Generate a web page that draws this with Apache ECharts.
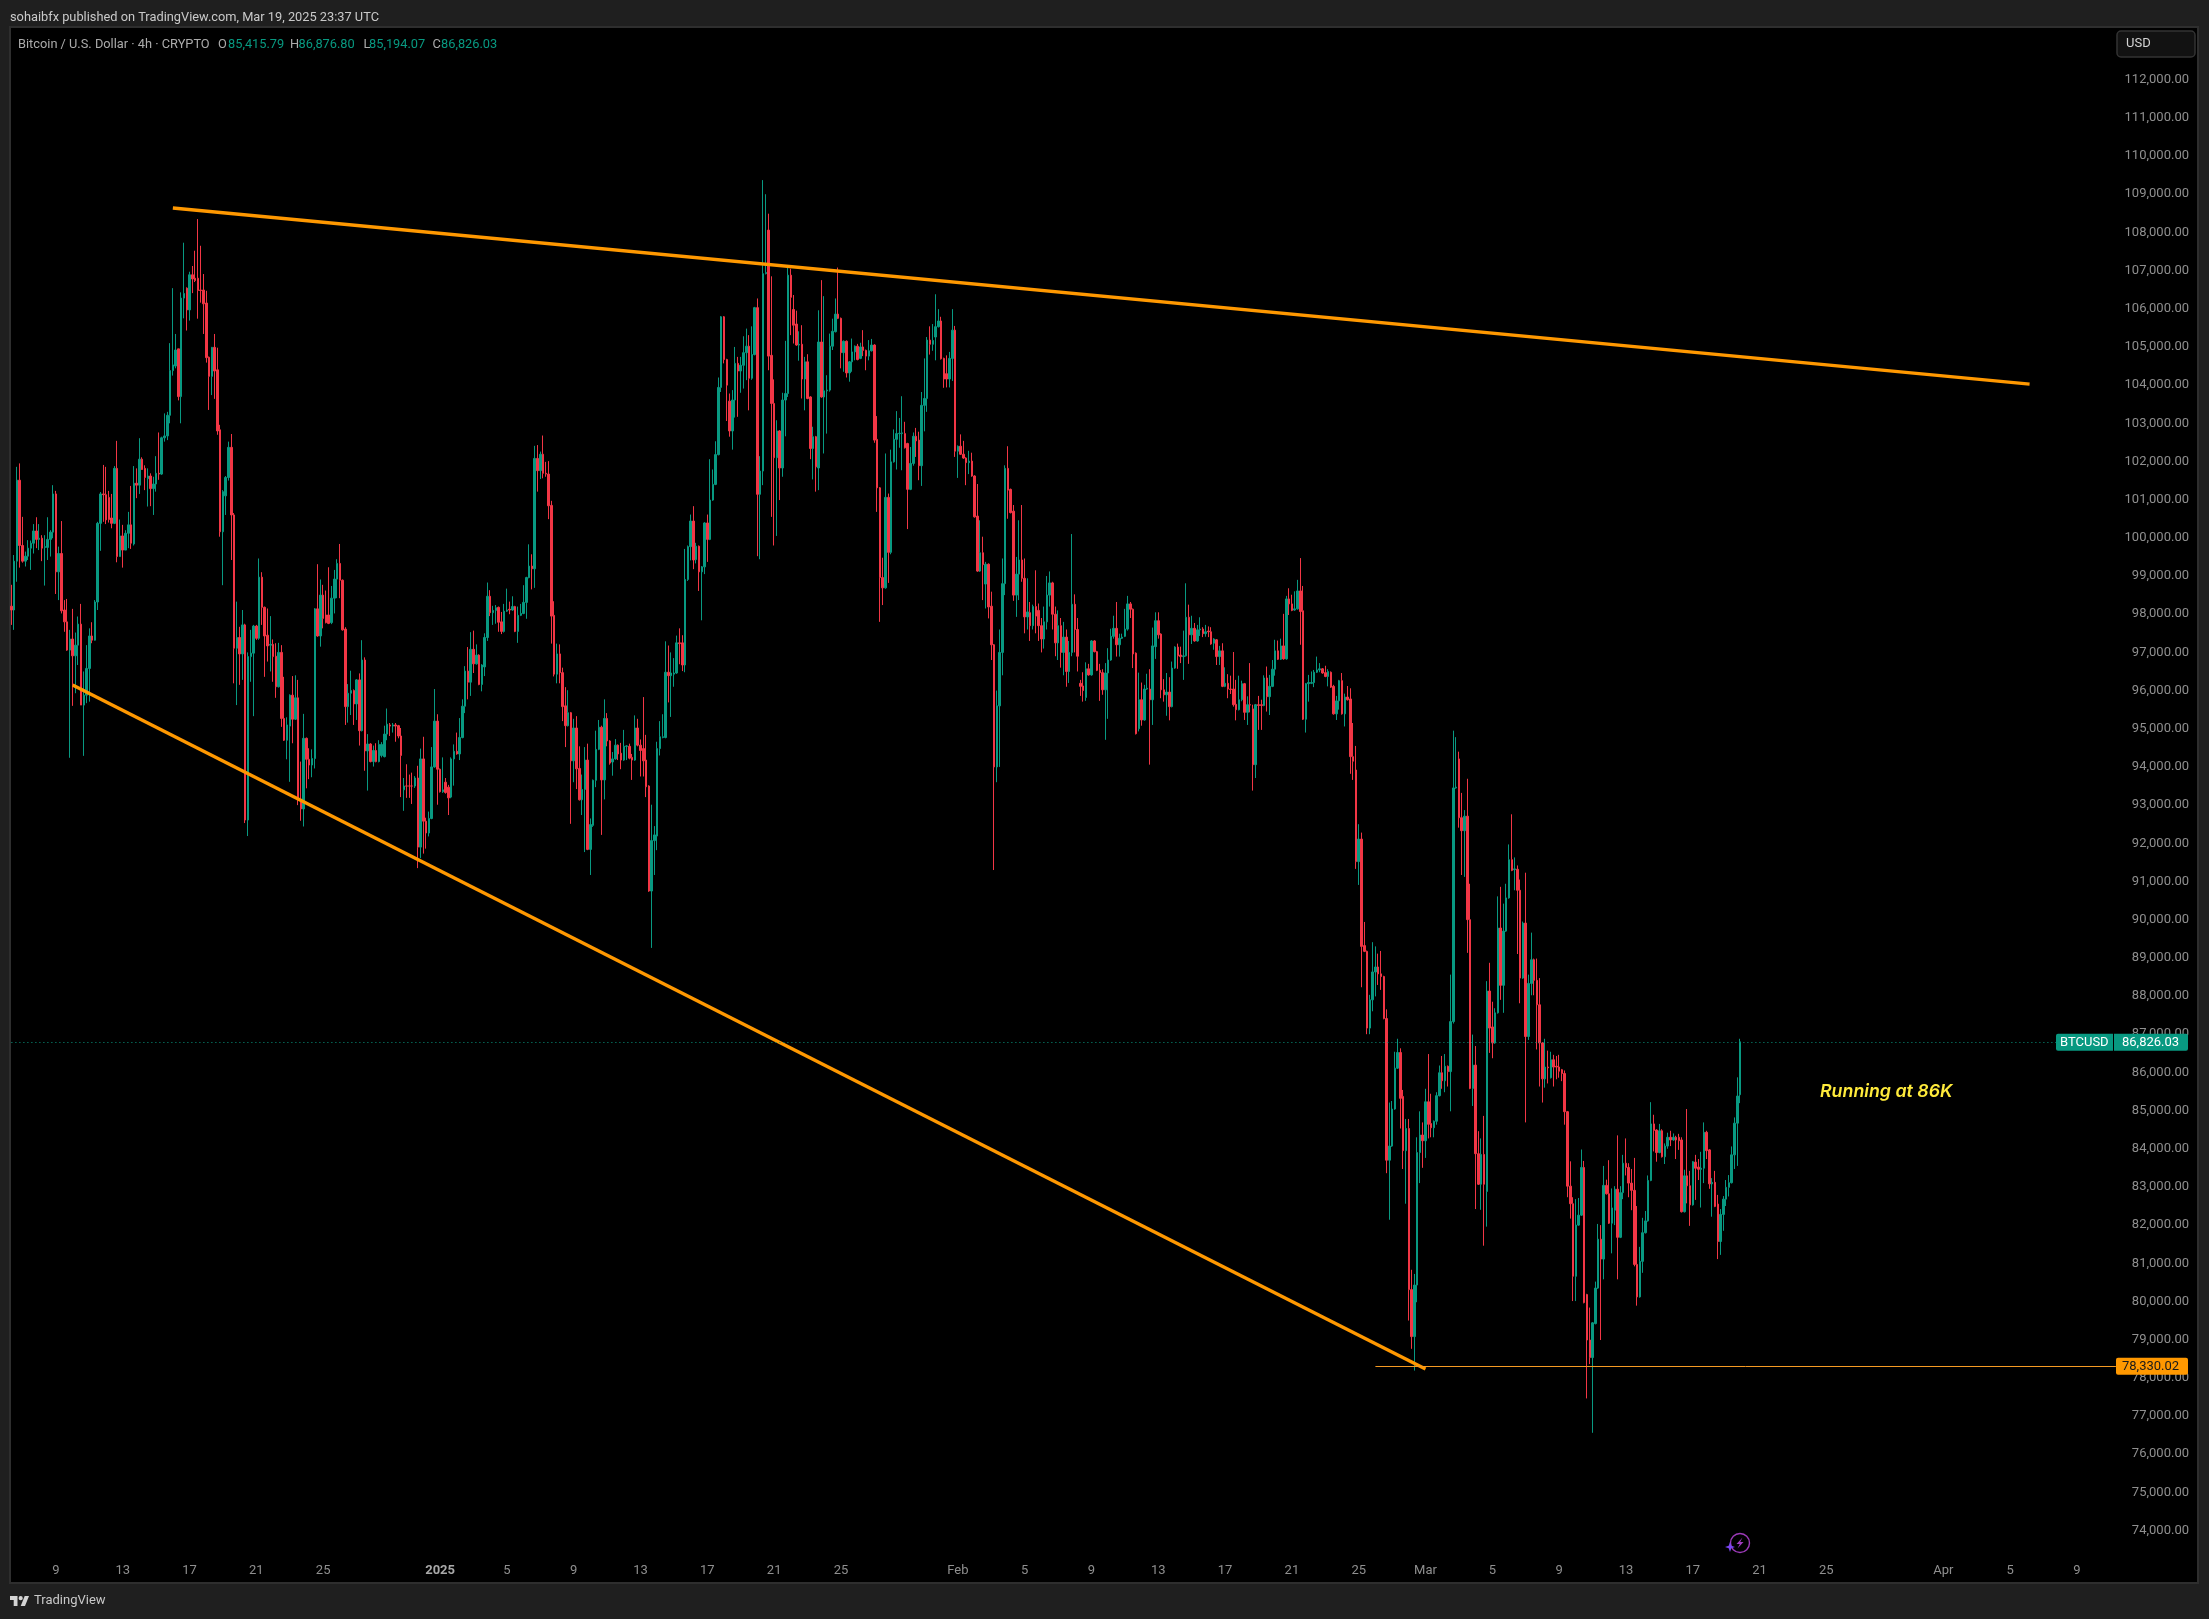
<!DOCTYPE html>
<html><head><meta charset="utf-8"><style>html,body{margin:0;padding:0;background:#1f1f1f}#c{width:2209px;height:1619px}</style>
<script src="https://cdn.jsdelivr.net/npm/echarts@6/dist/echarts.min.js"></script></head><body><div id="c"></div>
<script>
// Candle rows: [open, close, low, high], in tens of USD. 4h bars, first bar Dec 6 2024 08:00.
const candlesDec = [[9821,9811,9772,9877],[9811,9939,9759,9955],[9939,10151,9885,10186],[10151,9980,9922,10195],[9980,9939,9935,10055],[9939,9952,9925,9964],[9952,9973,9942,9994],[9973,9986,9916,9993],[9986,10018,9959,10036],[10018,9996,9973,10054],[9996,9999,9968,10036],[9999,9973,9939,10007],[9975,9977,9875,10007],[9975,9996,9942,10054],[9996,10015,9951,10020],[10015,10115,9999,10138],[10115,9911,9853,10123],[9911,9959,9837,9977],[9959,9809,9802,10044],[9811,9780,9754,9837],[9780,9706,9704,9840],[9706,9735,9424,9759],[9735,9691,9560,9814],[9691,9719,9593,9752],[9719,9774,9667,9794],[9774,9562,9562,9827],[9562,9588,9429,9650],[9588,9658,9567,9719],[9658,9743,9571,9763],[9743,9732,9724,9779],[9732,9832,9731,9837],[9832,10038,9811,10042],[10038,10115,9966,10120],[10115,10113,10042,10191],[10113,10047,10036,10186],[10106,10048,10040,10123],[10052,10038,10025,10115],[10038,10182,10036,10188],[10182,9951,9936,10254],[9951,10005,9951,10048],[10005,9968,9922,10034],[9968,10012,9968,10020],[10012,10034,9973,10068],[10034,9986,9971,10136],[9984,10143,9980,10188],[10143,10138,10104,10182],[10138,10206,10115,10261],[10206,10179,10178,10211],[10182,10158,10125,10190],[10155,10162,10082,10182],[10162,10129,10083,10169],[10129,10141,10060,10160],[10141,10169,10121,10214],[10169,10167,10152,10276],[10167,10262,10165,10265],[10262,10267,10252,10326],[10267,10321,10256,10330],[10321,10438,10300,10510],[10438,10453,10425,10654],[10450,10492,10444,10534],[10495,10370,10360,10495],[10370,10628,10300,10643],[10628,10640,10575,10773],[10654,10597,10543,10656],[10597,10689,10569,10697],[10689,10678,10641,10712],[10680,10674,10670,10752],[10680,10648,10574,10835],[10649,10648,10616,10765],[10649,10613,10534,10691],[10615,10472,10459,10647],[10473,10423,10335,10475],[10423,10499,10374,10500],[10499,10437,10364,10534],[10440,10280,10270,10498],[10283,10016,10003,10296],[10016,10121,9876,10125],[10110,10158,10060,10162],[10158,10237,10150,10252],[10237,10060,9942,10272],[10060,9711,9619,10065],[9711,9739,9562,9833],[9739,9696,9615,9767],[9696,9772,9628,9811],[9772,9261,9253,9775],[9261,9689,9219,9700],[9689,9698,9623,9759],[9698,9769,9533,9772],[9769,9737,9733,9772],[9737,9897,9733,9946],[9897,9818,9772,9910],[9818,9743,9636,9820],[9745,9717,9676,9815],[9719,9721,9650,9795],[9721,9689,9623,9734],[9690,9610,9581,9724],[9610,9700,9608,9725],[9700,9527,9505,9719],[9527,9470,9468,9636],[9470,9510,9420,9530],[9507,9588,9361,9590],[9588,9525,9462,9638],[9525,9581,9523,9640],[9581,9313,9300,9628],[9316,9290,9259,9414],[9290,9475,9244,9539],[9475,9420,9344,9477],[9420,9405,9368,9449],[9405,9422,9373,9446],[9422,9814,9396,9816],[9814,9743,9741,9931],[9743,9850,9715,9891],[9850,9789,9763,9877],[9798,9778,9776,9862],[9798,9776,9774,9923],[9778,9842,9774,9874],[9842,9892,9802,9916],[9892,9933,9842,9944],[9933,9889,9842,9984],[9889,9759,9757,9891],[9761,9558,9510,9766],[9558,9593,9516,9617],[9593,9600,9536,9652],[9600,9565,9510,9603],[9565,9628,9523,9630],[9628,9495,9456,9645],[9495,9680,9493,9732],[9680,9442,9390,9687],[9442,9460,9338,9486],[9460,9414,9412,9462],[9414,9443,9401,9456],[9443,9414,9412,9462],[9414,9459,9412,9470],[9430,9459,9425,9465],[9427,9486,9425,9508],[9486,9512,9470,9553],[9510,9507,9481,9515],[9507,9510,9490,9515],[9510,9507,9466,9515],[9508,9481,9475,9510],[9481,9430,9321,9502],[9340,9350,9285,9371],[9350,9350,9319,9407],[9350,9350,9319,9380],[9350,9350,9303,9385],[9350,9371,9345,9376],[9371,9190,9135,9403],[9190,9421,9161,9448],[9421,9258,9173,9479],[9258,9227,9186,9267],[9227,9265,9218,9283],[9265,9400,9263,9452],[9400,9520,9398,9604],[9520,9394,9301,9538],[9394,9335,9333,9396]];
const candlesJan = [[9335,9340,9332,9425],[9360,9333,9330,9371],[9347,9319,9274,9353],[9321,9421,9318,9425],[9421,9441,9351,9459],[9441,9434,9432,9490],[9434,9477,9418,9528],[9477,9559,9475,9577],[9559,9651,9541,9664],[9651,9622,9577,9714],[9622,9708,9586,9753],[9708,9670,9646,9757],[9670,9693,9668,9721],[9693,9616,9614,9695],[9616,9667,9598,9669],[9662,9739,9638,9750],[9739,9847,9730,9883],[9847,9804,9795,9863],[9804,9810,9772,9822],[9810,9817,9775,9824],[9818,9779,9754,9820],[9780,9755,9748,9806],[9755,9808,9752,9827],[9808,9811,9806,9867],[9813,9811,9800,9833],[9811,9820,9809,9847],[9820,9755,9753,9822],[9755,9797,9725,9820],[9797,9802,9795,9827],[9802,9831,9800,9876],[9831,9896,9788,9898],[9896,9926,9894,9983],[9926,9919,9865,9957],[9919,10208,9869,10241],[10208,10176,10121,10243],[10176,10219,10154,10226],[10219,10169,10156,10268],[10169,10167,10160,10199],[10167,10084,10049,10201],[10085,9795,9723,10097],[9797,9643,9637,9834],[9643,9696,9619,9723],[9696,9647,9619,9721],[9647,9558,9520,9660],[9560,9508,9452,9609],[9508,9542,9506,9601],[9542,9416,9251,9544],[9416,9502,9360,9526],[9502,9395,9342,9533],[9396,9314,9312,9454],[9314,9341,9274,9380],[9341,9418,9177,9452],[9418,9184,9182,9461],[9184,9249,9117,9265],[9247,9365,9243,9367],[9365,9446,9347,9495],[9446,9504,9444,9523],[9504,9366,9222,9508],[9366,9527,9315,9577],[9527,9468,9454,9541],[9468,9410,9406,9470],[9413,9421,9377,9439],[9421,9457,9419,9473],[9457,9434,9418,9459],[9436,9418,9394,9463],[9418,9454,9416,9497],[9454,9455,9418,9457],[9454,9423,9420,9461],[9425,9418,9366,9434],[9418,9502,9416,9535],[9502,9457,9454,9526],[9457,9443,9375,9472],[9448,9416,9375,9583],[9418,9348,9321,9484],[9350,9075,9073,9352],[9075,9207,8926,9301],[9207,9222,9117,9245],[9219,9448,9182,9466],[9448,9479,9430,9520],[9477,9479,9475,9538],[9477,9648,9475,9729],[9648,9639,9569,9718],[9639,9646,9531,9700],[9643,9646,9610,9685],[9646,9725,9644,9744],[9725,9723,9669,9763],[9725,9667,9651,9745],[9667,9891,9648,9971],[9891,9977,9887,9980],[9977,10044,9941,10061],[10044,9942,9918,10083],[9943,9978,9933,9987],[9978,9911,9861,9980],[9911,9924,9784,9926],[9924,10039,9905,10041],[10039,9996,9937,10061],[9996,10099,9994,10206],[10099,10140,10097,10179],[10140,10218,10138,10253],[10218,10394,10216,10420],[10394,10579,10382,10581],[10579,10467,10457,10581],[10467,10400,10306,10469],[10358,10280,10265,10378],[10280,10361,10231,10387],[10361,10457,10315,10500],[10457,10437,10317,10474],[10437,10452,10380,10474],[10452,10485,10391,10528],[10485,10502,10413,10548],[10502,10418,10334,10531],[10418,10480,10414,10554],[10480,10603,10478,10605],[10603,10114,9952,10627],[10114,10175,9944,10214],[10175,10692,10138,10937],[10692,10695,10690,10900],[10806,10476,10439,10849],[10478,10352,10055,10685],[10352,10210,9980,10415],[10210,10280,10005,10308],[10280,10183,10099,10282],[10183,10361,10160,10380],[10361,10378,10266,10516],[10378,10688,10369,10710],[10688,10630,10531,10705],[10598,10557,10509,10636],[10560,10505,10503,10595],[10505,10507,10464,10541],[10507,10416,10365,10557],[10416,10461,10334,10474],[10461,10365,10363,10481],[10369,10234,10206,10371],[10234,10265,10153,10291],[10265,10186,10121,10267],[10183,10513,10125,10596],[10513,10369,10367,10675],[10369,10385,10221,10633],[10385,10387,10273,10426],[10387,10502,10383,10535],[10502,10541,10492,10574],[10540,10586,10538,10627],[10586,10575,10573,10708],[10575,10485,10444,10577],[10485,10515,10435,10517],[10515,10432,10420,10517],[10432,10461,10409,10463],[10461,10487,10435,10522],[10487,10502,10465,10504],[10502,10467,10465,10508],[10470,10500,10468,10511],[10500,10491,10476,10544],[10491,10476,10439,10493],[10476,10490,10465,10518],[10490,10505,10488,10521],[10505,10256,10249,10507],[10258,10131,10068,10319],[10131,9896,9780,10133],[9896,9869,9824,9948],[9869,10106,9867,10221],[10106,9962,9882,10116],[9962,10199,9957,10231],[10199,10258,10197,10284],[10258,10273,10179,10332],[10273,10274,10236,10314],[10273,10275,10177,10371],[10273,10236,10234,10304],[10247,10127,10023,10249],[10127,10195,10125,10238],[10195,10266,10189,10276],[10266,10254,10212,10288],[10256,10189,10151,10278],[10189,10347,10136,10382],[10347,10365,10279,10470],[10365,10518,10330,10526],[10518,10507,10480,10554],[10507,10517,10490,10560],[10526,10553,10465,10638],[10553,10568,10551,10599],[10568,10469,10467,10579],[10470,10416,10393,10472],[10430,10416,10394,10478],[10416,10470,10394,10487],[10470,10544,10411,10599]];
const candlesFeb = [[10544,10227,10212,10555],[10227,10240,10157,10242],[10240,10219,10217,10271],[10219,10209,10207,10254],[10209,10197,10138,10211],[10197,10201,10167,10228],[10201,10162,10160,10223],[10162,10055,10053,10164],[10057,9913,9911,10141],[9913,9961,9911,10046],[9961,9930,9837,10003],[9879,9931,9815,9937],[9931,9819,9789,9933],[9821,9720,9680,9859],[9720,9400,9130,9722],[9400,9560,9360,9600],[9560,9700,9400,9760],[9700,9880,9640,9946],[9880,10182,9850,10190],[10182,10125,10050,10240],[10127,10066,10064,10129],[10070,9850,9835,10086],[9850,9905,9793,9950],[9905,9942,9837,10046],[9942,9894,9885,10086],[9894,9793,9750,9946],[9793,9806,9760,9894],[9804,9770,9730,9832],[9770,9820,9760,9825],[9820,9795,9750,9915],[9810,9770,9730,9828],[9770,9735,9700,9790],[9735,9780,9710,9820],[9780,9850,9760,9900],[9850,9882,9820,9912],[9882,9800,9760,9885],[9800,9725,9690,9820],[9725,9770,9680,9810],[9770,9700,9660,9790],[9700,9740,9640,9780],[9740,9650,9610,9760],[9650,9700,9620,9730],[9700,9826,9690,10010],[9826,9760,9700,9852],[9760,9690,9650,9790],[9619,9611,9586,9628],[9612,9600,9571,9648],[9582,9657,9573,9674],[9657,9641,9639,9670],[9641,9730,9639,9732],[9730,9702,9700,9732],[9702,9653,9651,9704],[9653,9647,9573,9670],[9647,9602,9589,9656],[9602,9646,9471,9672],[9646,9680,9526,9711],[9680,9742,9678,9762],[9742,9763,9736,9796],[9763,9720,9689,9832],[9720,9737,9689,9749],[9737,9740,9735,9749],[9742,9761,9740,9814],[9761,9827,9757,9848],[9827,9813,9790,9832],[9813,9696,9659,9815],[9698,9487,9485,9700],[9500,9576,9493,9647],[9576,9523,9508,9621],[9523,9604,9521,9615],[9604,9606,9602,9644],[9604,9576,9406,9656],[9576,9717,9510,9765],[9715,9783,9683,9805],[9783,9746,9736,9805],[9748,9602,9580,9750],[9602,9589,9571,9630],[9589,9596,9534,9646],[9596,9558,9522,9635],[9558,9659,9556,9676],[9659,9714,9657,9716],[9714,9691,9657,9723],[9693,9689,9672,9715],[9689,9691,9628,9757],[9691,9792,9689,9881],[9792,9746,9670,9825],[9746,9763,9722,9796],[9763,9730,9728,9777],[9730,9759,9728,9772],[9759,9761,9743,9792],[9761,9749,9740,9766],[9749,9754,9741,9772],[9756,9754,9740,9768],[9754,9722,9720,9766],[9724,9735,9707,9737],[9733,9689,9667,9735],[9689,9704,9667,9717],[9704,9611,9609,9724],[9611,9619,9609,9661],[9619,9604,9580,9643],[9604,9603,9591,9639],[9604,9563,9558,9701],[9564,9550,9522,9628],[9550,9576,9548,9639],[9576,9618,9572,9626],[9618,9543,9523,9620],[9543,9563,9510,9585],[9563,9562,9543,9672],[9552,9406,9338,9563],[9406,9563,9371,9565],[9563,9561,9497,9586],[9563,9561,9497,9576],[9561,9633,9559,9640],[9633,9584,9545,9663],[9584,9611,9536,9641],[9611,9656,9609,9680],[9656,9704,9639,9733],[9704,9682,9680,9731],[9682,9717,9680,9736],[9717,9683,9681,9801],[9683,9840,9681,9848],[9840,9827,9798,9868],[9827,9810,9808,9851],[9811,9814,9809,9860],[9814,9861,9812,9890],[9861,9807,9720,9947],[9809,9525,9523,9874],[9525,9618,9490,9620],[9618,9621,9571,9641],[9619,9621,9617,9650],[9621,9648,9609,9654],[9648,9654,9646,9689],[9654,9657,9648,9672],[9657,9646,9644,9659],[9647,9637,9635,9665],[9637,9650,9611,9656],[9648,9609,9607,9650],[9611,9539,9537,9615],[9539,9573,9523,9586],[9573,9626,9550,9628],[9626,9539,9537,9646],[9539,9583,9506,9592],[9583,9576,9574,9612],[9578,9427,9382,9606],[9427,9415,9366,9515],[9392,9152,9133,9455],[9152,9211,9091,9250],[9211,8930,8823,9228],[8932,8917,8915,8994],[8917,8716,8700,8919],[8716,8790,8700,8803],[8790,8863,8760,8941],[8863,8876,8799,8930],[8876,8858,8829,8911],[8858,8851,8816,8918],[8851,8741,8739,8853],[8741,8370,8336,8765],[8370,8407,8214,8521],[8407,8504,8405,8525],[8504,8611,8502,8654],[8611,8652,8609,8688],[8652,8532,8453,8663],[8537,8395,8347,8554],[8395,8453,8256,8478],[8453,8031,7950,8478],[8031,7908,7876,8083],[7908,8043,7819,8072]];
const candlesMar = [[8043,8390,7998,8430],[8390,8436,8310,8498],[8436,8421,8350,8469],[8421,8523,8376,8557],[8523,8464,8427,8648],[8466,8455,8430,8544],[8455,8472,8430,8474],[8472,8539,8463,8548],[8539,8599,8537,8618],[8599,8578,8557,8643],[8578,8616,8548,8648],[8616,8602,8563,8618],[8602,8733,8498,8856],[8733,9345,8728,9495],[9345,9347,9343,9478],[9421,9267,9241,9440],[9267,9233,9117,9332],[9233,9271,9112,9287],[9271,9000,8913,9369],[9000,8558,8556,9094],[8558,8619,8512,8699],[8619,8387,8242,8669],[8387,8307,8305,8446],[8307,8385,8240,8427],[8385,8307,8146,8486],[8288,8813,8196,8839],[8813,8716,8651,8887],[8719,8677,8637,8785],[8677,8756,8675,8768],[8756,8978,8754,9061],[8978,8828,8790,9086],[8828,8970,8756,9042],[8970,9057,8968,9094],[9057,9157,9055,9197],[9157,9129,9127,9276],[9131,9133,9077,9163],[9132,9077,8910,9142],[9077,8847,8781,9105],[8847,8991,8845,8995],[8991,8694,8469,9123],[8694,8833,8685,8856],[8833,8895,8802,8966],[8895,8841,8802,8898],[8841,8777,8660,8898],[8777,8677,8563,8847],[8677,8583,8521,8679],[8583,8614,8560,8688],[8614,8612,8571,8657],[8586,8633,8584,8654],[8633,8614,8563,8646],[8616,8614,8582,8643],[8614,8603,8586,8646],[8607,8597,8577,8609],[8597,8497,8463,8605],[8497,8302,8273,8499],[8302,8256,8217,8367],[8256,8066,8001,8273],[8066,8200,8001,8268],[8200,8226,8198,8271],[8226,8351,8224,8398],[8351,7997,7995,8368],[8018,7899,7746,8020],[7899,7853,7836,7984],[7853,7944,7656,7946],[7942,8035,7940,8052],[8035,8163,8033,8203],[8163,8111,7899,8200],[8111,8304,8058,8355],[8304,8282,8280,8319],[8282,8205,8203,8370],[8205,8245,8126,8296],[8239,8294,8200,8302],[8294,8168,8058,8435],[8168,8285,8166,8302],[8285,8362,8268,8384],[8362,8351,8330,8427],[8351,8310,8273,8362],[8310,8291,8239,8347],[8291,8097,8092,8376],[8097,8012,7989,8250],[8012,8105,8010,8143],[8105,8180,8075,8219],[8180,8211,8178,8237],[8211,8317,8209,8330],[8317,8465,8315,8522],[8465,8448,8393,8489],[8449,8390,8366,8451],[8390,8447,8388,8465],[8447,8379,8377,8451],[8379,8407,8360,8414],[8407,8430,8400,8442],[8430,8423,8407,8447],[8423,8430,8421,8440],[8430,8423,8373,8434],[8430,8421,8397,8439],[8423,8235,8233,8430],[8235,8329,8233,8345],[8329,8303,8257,8504],[8303,8253,8198,8342],[8253,8366,8251,8368],[8365,8349,8266,8384],[8352,8346,8318,8373],[8346,8349,8246,8392],[8349,8443,8310,8469],[8443,8395,8373,8447],[8397,8308,8295,8399],[8308,8312,8222,8323],[8312,8249,8247,8342],[8255,8157,8111,8279],[8157,8228,8122,8242],[8228,8268,8185,8276],[8268,8299,8250,8318],[8299,8311,8275,8331],[8311,8384,8309,8406],[8384,8467,8347,8482],[8467,8538,8355,8587],[8541.6,8680,8519.4,8688]];
const priceUnit = 10;
const yTicks = [74000,75000,76000,77000,78000,79000,80000,81000,82000,83000,84000,85000,86000,87000,88000,89000,90000,91000,92000,93000,94000,95000,96000,97000,98000,99000,100000,101000,102000,103000,104000,105000,106000,107000,108000,109000,110000,111000,112000];
const xTickDays = ['12-09','12-13','12-17','12-21','12-25','01-01','01-05','01-09','01-13','01-17','01-21','01-25','02-01','02-05','02-09','02-13','02-17','02-21','02-25','03-01','03-05','03-09','03-13','03-17','03-21','03-25','04-01','04-05','04-09'];
const xTickTexts = ['9','13','17','21','25','2025','5','9','13','17','21','25','Feb','5','9','13','17','21','25','Mar','5','9','13','17','21','25','Apr','5','9'];
// Drawn lines: bar index and price, read against the axes
const upperTrend = [[58,108640],[725,104025]];
const lowerTrend = [[22,96146],[508,78231]];
const supportLine = [490,756,78300];
const lastLine = [0,735,86787];
const lastClose = '86,826.03', supportText = '78,330.02';

const UP='#089981', DOWN='#F23645', ORANGE='#ff9800', FONT='Roboto, sans-serif';
const barSlots = 786;
const pad = n=>String(n).padStart(2,'0');
const slotKeys = []; const t0 = Date.UTC(2024,11,6,8);
for(let i=0;i<barSlots;i++){const d=new Date(t0+i*4*3600e3);slotKeys.push(`${pad(d.getUTCMonth()+1)}-${pad(d.getUTCDate())} ${pad(d.getUTCHours())}`);}
const tickText = new Map(xTickDays.map((k,i)=>[k+' 00',xTickTexts[i]]));
const candles = [...candlesDec,...candlesJan,...candlesFeb,...candlesMar].map(r=>r.map(v=>v*priceUnit));
const seg = (a,b,lineStyle)=>[{coord:[slotKeys[a[0]],a[1]],lineStyle},{coord:[slotKeys[b[0]],b[1]]}];
const fmt = v=>v.toLocaleString('en-US',{minimumFractionDigits:2,maximumFractionDigits:2});

const chart = echarts.init(document.getElementById('c'),null,{renderer:'canvas',width:2209,height:1619});
const txt=(text,x,y,fill,size,extra)=>({type:'text',z:100,x,y,style:Object.assign({text,fill,font:`${size}px ${FONT}`,verticalAlign:'middle'},extra||{})});
chart.setOption({
  animation:false,
  backgroundColor:'#1f1f1f',
  grid:{left:10,right:11,top:27,bottom:36,show:true,backgroundColor:'#000',borderColor:'#2e2e2e',borderWidth:2},
  xAxis:{type:'category',data:slotKeys,boundaryGap:true,axisLine:{show:false},axisTick:{show:false},splitLine:{show:false},
    axisLabel:{inside:true,margin:6,color:'#8f8f8f',fontFamily:'Roboto',fontSize:13,hideOverlap:false,
      interval:(i,v)=>tickText.has(v),
      formatter:v=>{const s=tickText.get(v)||'';return s==='2025'?'{b|2025}':s;},
      rich:{b:{fontFamily:'Roboto',fontWeight:'bold',fontSize:13,color:'#a8a8a8'}}}},
  yAxis:{type:'value',position:'right',min:72626,max:113380,axisLine:{show:false},axisTick:{show:false},splitLine:{show:false},
    axisLabel:{inside:true,margin:9,color:'#8f8f8f',fontFamily:'Roboto',fontSize:13,customValues:yTicks,formatter:v=>fmt(v)}},
  series:[
   {type:'line',z:1,data:[],silent:true,markLine:{silent:true,symbol:'none',animation:false,label:{show:false},
     data:[
      seg(upperTrend[0],upperTrend[1],{color:ORANGE,width:3.4,type:'solid'}),
      seg(lowerTrend[0],lowerTrend[1],{color:ORANGE,width:3.4,type:'solid'}),
      seg([supportLine[0],supportLine[2]],[supportLine[1],supportLine[2]],{color:'#f59a23',width:1,type:'solid'}),
      seg([lastLine[0],lastLine[2]],[lastLine[1],lastLine[2]],{color:UP,width:1,type:[1,3]}),
     ]}},
   {type:'candlestick',z:2,data:candles,large:false,barWidth:2,silent:true,
    itemStyle:{color:UP,color0:DOWN,borderColor:UP,borderColor0:DOWN,borderColorDoji:DOWN,borderWidth:1}}
  ]
});
const yLast = chart.convertToPixel({yAxisIndex:0},lastLine[2]);
const ySup = chart.convertToPixel({yAxisIndex:0},supportLine[2]);
chart.setOption({graphic:[
  txt('sohaibfx published on TradingView.com, Mar 19, 2025 23:37 UTC',10,18,'#c9c9c9',12.8),
  txt('Bitcoin / U.S. Dollar · 4h · CRYPTO',18,45,'#ababab',12.8),
  txt('O',218,45,'#ababab',12.8),txt('85,415.79',228,45,UP,12.8),
  txt('H',290,45,'#ababab',12.8),txt('86,876.80',298.5,45,UP,12.8),
  txt('L',363.5,45,'#ababab',12.8),txt('85,194.07',369,45,UP,12.8),
  txt('C',432.5,45,'#ababab',12.8),txt('86,826.03',441,45,UP,12.8),
  {type:'rect',z:100,shape:{x:2117,y:31,width:78,height:26,r:4},style:{fill:'#121212',stroke:'#333',lineWidth:1.5}},
  txt('USD',2126,44,'#d4d4d4',13),
  {type:'rect',z:100,shape:{x:2056,y:yLast-8.5,width:57,height:17,r:[2,0,0,2]},style:{fill:UP}},
  {type:'rect',z:100,shape:{x:2114,y:yLast-8.5,width:74,height:17,r:[0,2,2,0]},style:{fill:UP}},
  txt('BTCUSD',2060,yLast+0.5,'#fff',13),
  txt(lastClose,2122,yLast+0.5,'#fff',13),
  {type:'rect',z:100,shape:{x:2116,y:ySup-8.5,width:72,height:17,r:2},style:{fill:ORANGE}},
  txt(supportText,2122,ySup+0.5,'#1a1a1a',13),
  {type:'text',z:100,x:1820,y:1092,style:{text:'Running at 86K',fill:'#ffeb3b',font:'italic 600 17.8px Inter, sans-serif',verticalAlign:'middle'}},
  {type:'circle',z:100,shape:{cx:1740,cy:1543,r:9.5},style:{fill:'none',stroke:'#9c3ab8',lineWidth:1.4}},
  {type:'polygon',z:101,shape:{points:[[1742.5,1537.5],[1736.5,1544],[1739.8,1544],[1737.5,1548.5],[1743.5,1542],[1740.2,1542]]},style:{fill:'#a13cbf'}},
  {type:'polygon',z:102,shape:{points:[[1730,1542],[1731.3,1545.7],[1735,1547],[1731.3,1548.3],[1730,1552],[1728.7,1548.3],[1725,1547],[1728.7,1545.7]]},style:{fill:'#7b45f0'}},
  {type:'polygon',z:100,shape:{points:[[10,1596],[17.5,1596],[17.5,1606],[13.7,1606],[13.7,1599.9],[10,1599.9]]},style:{fill:'#d4d4d4'}},
  {type:'polygon',z:100,shape:{points:[[20.7,1606],[24.7,1596],[29,1596],[25,1606]]},style:{fill:'#d4d4d4'}},
  {type:'circle',z:100,shape:{cx:20.7,cy:1598.2,r:2.1},style:{fill:'#d4d4d4'}},
  txt('TradingView',34,1601,'#c9c9c9',13)
]});
</script></body></html>
